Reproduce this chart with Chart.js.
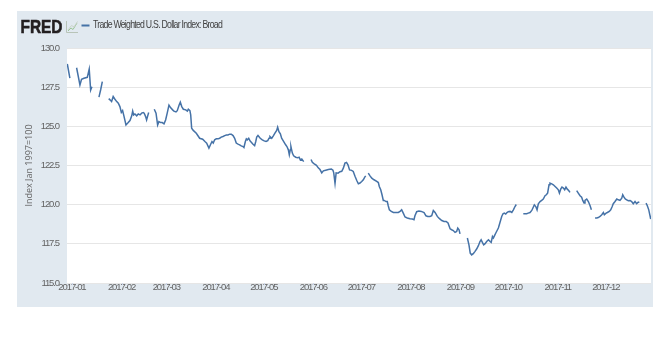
<!DOCTYPE html>
<html>
<head>
<meta charset="utf-8">
<script src="https://cdn.jsdelivr.net/npm/chart.js@4.4.1/dist/chart.umd.min.js"></script>
<style>
html,body{margin:0;padding:0;background:#ffffff;}
#wrap{position:relative;width:669px;height:338px;}
</style>
</head>
<body>
<div id="wrap"><canvas id="c" width="669" height="338"></canvas></div>
<script>
// ---- Text ----
const seriesName = 'Trade Weighted U.S. Dollar Index: Broad';
const yAxisTitle = 'Index Jan 1997=100';
const logoText = 'FRED';

// ---- Axis ticks ----
const tickDays = [0, 31, 59, 90, 120, 151, 181, 212, 243, 273, 304, 334];
const tickLabels = ['2017-01','2017-02','2017-03','2017-04','2017-05','2017-06',
                    '2017-07','2017-08','2017-09','2017-10','2017-11','2017-12'];
const yTicks = [115, 117.5, 120, 122.5, 125, 127.5, 130];

// ---- Series: days since 2017-01-01, index value (null = no observation / holiday) ----
const days = [
  -2.9, -1.3, 0.8,
  2.9, 5.0, 6.0, 7.5, 9.6, 10.8, 11.7, 12.5, 14.5,
  16.9, 18.0, 19.0, 21.0,
  23.0, 23.8, 24.8, 25.8, 26.9, 28.0, 29.0, 30.0, 30.9, 31.7,
  32.5, 33.8, 35.2, 36.3, 37.4, 38.0, 38.6, 39.4, 40.5, 41.5,
  42.6, 43.6, 44.6, 45.2, 46.1, 46.7, 47.4, 48.0, 50.0,
  51.5, 52.6, 53.6, 54.4, 55.5, 56.5, 57.6, 58.6, 59.6, 60.7,
  61.8, 63.0, 63.8, 65.1, 65.9, 67.0, 67.8, 68.7, 69.7, 71.2,
  72.2, 72.8, 73.8, 74.3, 74.9, 75.9, 77.8, 79.9, 81.8, 83.2,
  84.3, 85.7, 86.8, 87.6, 88.4, 89.3, 90.3, 91.4, 92.4, 93.4,
  94.5, 95.6, 96.6, 97.6, 98.7, 99.7, 100.8, 101.8, 102.8, 103.9,
  104.9, 105.9, 107.0, 107.6, 108.5, 109.1, 109.7, 110.6, 111.4, 112.2,
  113.3, 114.3, 115.0, 115.6, 116.4, 117.8, 119.1, 120.3, 121.4, 122.5,
  123.3, 123.9, 125.0, 126.0, 127.0, 128.1, 128.7, 129.5, 130.4, 131.2,
  132.5, 133.7, 134.5, 135.4, 136.0, 136.6, 137.0, 137.9, 138.7, 140.0,
  141.2, 142.1, 142.9, 143.8, 145.0, 147.5,
  149.6, 150.4, 151.6, 153.0, 154.1, 155.2, 156.3, 157.3, 158.8, 160.4,
  162.3, 163.3, 163.8, 164.6, 165.3, 166.5, 167.7, 168.8, 169.8, 170.8,
  171.8, 172.7, 173.7, 175.0, 176.0, 177.1, 178.2, 179.2, 180.2, 181.3,
  182.3, 183.2, 183.8, 184.6,
  185.4, 186.5, 187.6, 189.0, 190.7, 191.7, 192.3, 193.2, 194.0, 194.8,
  195.4, 196.5, 197.3, 197.9, 198.6, 199.8, 201.1, 202.8, 204.2, 205.3,
  206.3, 207.3, 208.4, 209.8, 211.5, 213.0, 214.0, 214.6, 215.7, 217.1,
  218.6, 220.3, 221.5, 222.6, 224.0, 225.1, 226.1, 227.2, 228.6, 229.8,
  231.4, 232.8, 234.1, 235.3, 236.6, 237.6, 238.6, 239.7, 240.7, 241.4,
  242.2, 242.8, 245.0,
  247.4, 248.4, 249.2, 250.1, 251.1, 252.2, 253.2, 254.3, 255.3, 256.0,
  256.8, 257.6, 258.5, 259.5, 260.6, 261.6, 262.3, 263.1, 263.7, 264.4,
  265.2, 266.0, 266.8, 267.4, 268.3, 268.9, 269.7, 270.5, 271.4, 272.2,
  273.0, 274.1, 275.2, 276.2, 277.2, 278.0, 280.0,
  282.4, 283.5, 284.5, 285.5, 286.6, 287.7, 288.7, 289.3, 290.2, 291.0,
  291.8, 292.9, 293.9, 294.9, 296.0, 296.8, 297.6, 298.5, 299.1, 300.2,
  301.2, 302.3, 303.3, 304.3, 305.0, 305.8, 306.6, 307.5, 308.3, 309.1,
  309.9, 310.8, 311.6, 313.0,
  315.8, 316.8, 317.9, 318.9, 319.6, 320.4, 321.0, 322.1, 323.1, 324.2,
  325.0, 326.0,
  327.3, 328.4, 329.3, 330.4, 331.5, 332.5, 333.1, 334.2, 335.0, 336.2,
  337.1, 337.9, 338.7, 339.8, 340.9, 341.9, 342.9, 344.0, 344.6, 345.4,
  346.2, 347.1, 348.1, 349.2, 350.2, 351.2, 352.3, 353.3, 354.1, 355.0, 357.0,
  359.2, 360.0, 360.9, 361.7, 362.1
];
const values = [
  128.98, 128.07, null,
  128.74, 127.64, 128.00, 128.07, 128.13, 128.66, 127.32, 127.53, null,
  126.86, 127.35, 127.85, null,
  126.77, 126.69, 126.58, 126.90, 126.73, 126.58, 126.48, 126.26, 125.88, 126.00,
  125.67, 125.09, 125.24, 125.37, 125.67, 125.97, 125.73, 125.79, 125.67, 125.79,
  125.73, 125.84, 125.88, 125.84, 125.62, 125.41, 125.67, 125.88, null,
  126.09, 125.84, 125.09, 125.30, 125.24, 125.24, 125.16, 125.41, 125.84, 126.35,
  126.18, 126.05, 125.97, 125.92, 126.00, 126.35, 126.54, 126.26, 126.09, 126.05,
  125.97, 126.09, 126.00, 125.73, 124.88, 124.74, 124.56, 124.24, 124.18, 124.03,
  123.93, 123.61, 123.86, 124.03, 123.93, 124.14, 124.20, 124.20, 124.24, 124.31,
  124.35, 124.41, 124.45, 124.45, 124.50, 124.50, 124.41, 124.24, 123.93, 123.86,
  123.82, 123.75, 123.71, 123.65, 124.03, 124.20, 124.14, 124.24, 124.07, 123.99,
  123.86, 123.77, 124.03, 124.31, 124.42, 124.24, 124.14, 124.07, 124.03, 124.09,
  124.24, 124.35, 124.24, 124.39, 124.56, 124.74, 124.95, 124.66, 124.52, 124.24,
  124.03, 123.82, 123.71, 123.50, 123.18, 123.50, 123.71, 123.29, 123.12, 123.03,
  122.99, 123.03, 122.86, 122.91, 122.75, null,
  122.88, 122.70, 122.61, 122.51, 122.35, 122.24, 122.03, 122.16, 122.20, 122.24,
  122.27, 122.20, 122.03, 121.36, 122.03, 122.01, 122.10, 122.13, 122.33, 122.65,
  122.70, 122.54, 122.22, 122.19, 122.12, 121.81, 121.54, 121.33, 121.38, 121.48,
  121.59, 121.76, 121.84, null,
  122.01, 121.84, 121.69, 121.59, 121.48, 121.41, 121.16, 120.95, 120.63, 120.27,
  120.27, 120.20, 120.20, 119.93, 119.67, 119.57, 119.50, 119.50, 119.50, 119.57,
  119.67, 119.46, 119.21, 119.15, 119.10, 119.08, 119.04, 119.29, 119.55, 119.59,
  119.57, 119.50, 119.29, 119.25, 119.25, 119.29, 119.63, 119.50, 119.25, 119.12,
  118.99, 118.93, 118.93, 118.83, 118.46, 118.40, 118.35, 118.23, 118.29, 118.51,
  118.40, 118.14, null,
  117.87, 117.44, 116.91, 116.79, 116.87, 117.02, 117.17, 117.38, 117.65, 117.76,
  117.59, 117.44, 117.51, 117.65, 117.76, 117.65, 117.59, 117.97, 117.87, 118.02,
  118.19, 118.35, 118.51, 118.72, 119.04, 119.25, 119.42, 119.46, 119.40, 119.50,
  119.55, 119.57, 119.50, 119.67, 119.88, 120.01, null,
  119.42, 119.42, 119.42, 119.46, 119.50, 119.63, 119.85, 119.99, 119.88, 119.67,
  120.06, 120.20, 120.27, 120.36, 120.57, 120.63, 120.74, 121.27, 121.38, 121.33,
  121.27, 121.16, 121.06, 120.95, 120.74, 120.99, 121.12, 121.06, 120.95, 121.12,
  120.99, 120.90, 120.78, null,
  120.90, 120.74, 120.57, 120.48, 120.27, 120.10, 120.27, 120.36, 120.20, 119.93,
  119.67, null,
  119.15, 119.15, 119.18, 119.25, 119.36, 119.50, 119.36, 119.46, 119.50, 119.57,
  119.67, 119.85, 120.06, 120.20, 120.36, 120.31, 120.27, 120.42, 120.63, 120.48,
  120.36, 120.31, 120.25, 120.27, 120.20, 120.06, 120.20, 120.06, 120.14, 120.18, null,
  120.10, 119.93, 119.67, 119.29, 119.08
];

// ---- Styling ----
const lineColor = '#4572a7';
const panelColor = '#e1e9f0';
const tickFont = "'Liberation Sans', Arial, sans-serif";
const textColor = '#636363';

const points = days.map((d, i) => ({ x: d, y: values[i] }));

// tick labels of this chart are set in a condensed face: tighten letter spacing
function condenseLabels(s) {
  if (s._condensed) return;
  const orig = s.drawLabels.bind(s);
  s.drawLabels = function (area) {
    const ctx = s.ctx;
    ctx.save();
    if ('letterSpacing' in ctx) ctx.letterSpacing = '-1.1px';
    orig(area);
    ctx.restore();
  };
  s._condensed = true;
}

const framePlugin = {
  id: 'frame',
  beforeDraw(chart) {
    const ctx = chart.ctx, a = chart.chartArea;
    ctx.save();
    ctx.fillStyle = '#ffffff';
    ctx.fillRect(0, 0, chart.width, chart.height);
    ctx.fillStyle = panelColor;
    ctx.fillRect(17, 11, 636, 296);
    ctx.fillStyle = '#ffffff';
    ctx.fillRect(a.left, a.top, a.right - a.left, a.bottom - a.top);
    ctx.restore();
  },
  afterDraw(chart) {
    const ctx = chart.ctx, a = chart.chartArea, xs = chart.scales.x;
    ctx.save();
    // month tick marks under the plot
    ctx.strokeStyle = '#ccd6eb';
    ctx.lineWidth = 1;
    tickDays.forEach(d => {
      const px = Math.round(xs.getPixelForValue(d)) + 0.5;
      ctx.beginPath();
      ctx.moveTo(px, a.bottom);
      ctx.lineTo(px, a.bottom + 2);
      ctx.stroke();
    });
    // FRED logo
    ctx.fillStyle = '#231f20';
    ctx.font = "bold 18.5px 'Liberation Sans', Arial, sans-serif";
    ctx.textBaseline = 'alphabetic';
    const lw = ctx.measureText(logoText).width;
    ctx.save();
    ctx.translate(20.5, 33.4);
    ctx.scale(42 / lw, 1);
    ctx.fillText(logoText, 0, 0);
    ctx.strokeStyle = '#231f20';
    ctx.lineWidth = 0.6;
    ctx.strokeText(logoText, 0, 0);
    ctx.restore();
    // small graph icon
    ctx.strokeStyle = '#b8c4b8';
    ctx.lineWidth = 1;
    ctx.beginPath();
    ctx.moveTo(66.5, 21); ctx.lineTo(66.5, 32.5); ctx.lineTo(78, 32.5);
    ctx.stroke();
    ctx.strokeStyle = '#9cc59a';
    ctx.beginPath();
    ctx.moveTo(68, 31); ctx.lineTo(71, 28); ctx.lineTo(73, 29.5); ctx.lineTo(77, 23);
    ctx.stroke();
    ctx.strokeStyle = '#c9d3c9';
    ctx.beginPath();
    ctx.moveTo(68, 30); ctx.lineTo(71.5, 25.5); ctx.lineTo(74, 27); ctx.lineTo(77.5, 21.5);
    ctx.stroke();
    // legend swatch
    ctx.strokeStyle = lineColor;
    ctx.lineWidth = 2;
    ctx.beginPath();
    ctx.moveTo(81.5, 25.5); ctx.lineTo(89.5, 25.5);
    ctx.stroke();
    // legend text
    ctx.fillStyle = '#3f3f3f';
    ctx.font = "10.5px 'Liberation Sans', Arial, sans-serif";
    ctx.textBaseline = 'middle';
    if ('letterSpacing' in ctx) ctx.letterSpacing = '-0.9px';
    const tw = ctx.measureText(seriesName).width;
    ctx.save();
    ctx.translate(93, 25.5);
    ctx.scale(129 / tw, 1);
    ctx.fillText(seriesName, 0, 0);
    ctx.restore();
    ctx.restore();
  }
};

new Chart(document.getElementById('c'), {
  type: 'line',
  data: {
    datasets: [{
      label: seriesName,
      data: points,
      borderColor: lineColor,
      borderWidth: 1.5,
      pointRadius: 0,
      pointHoverRadius: 0,
      fill: false,
      tension: 0,
      spanGaps: false
    }]
  },
  options: {
    responsive: false,
    animation: false,
    devicePixelRatio: 1,
    layout: { padding: { left: 17, right: 18, top: 48, bottom: 31 } },
    plugins: {
      legend: { display: false },
      tooltip: { enabled: false },
      title: { display: false }
    },
    scales: {
      x: {
        type: 'linear',
        min: -3.1,
        max: 362.3,
        afterBuildTicks(s) { s.ticks = tickDays.map(v => ({ value: v })); },
        afterFit(s) { s.height = 24; condenseLabels(s); },
        grid: { display: false, drawTicks: false },
        border: { display: false },
        ticks: {
          autoSkip: false,
          maxRotation: 0,
          padding: 0,
          color: textColor,
          font: { family: tickFont, size: 9.5, lineHeight: 1 },
          callback: (v) => tickLabels[tickDays.indexOf(v)]
        }
      },
      y: {
        min: 115,
        max: 130,
        afterBuildTicks(s) { s.ticks = yTicks.map(v => ({ value: v })); },
        afterFit(s) { s.width = 50; condenseLabels(s); },
        grid: { color: '#e6e6e6', lineWidth: 1, drawTicks: false },
        border: { display: false },
        ticks: {
          padding: 8,
          color: textColor,
          font: { family: tickFont, size: 9.5 },
          callback: (v) => Number(v).toFixed(1)
        },
        title: {
          display: true,
          text: yAxisTitle,
          color: textColor,
          font: { family: "'Open Sans', sans-serif", size: 9 },
          padding: { top: 7, bottom: 0 }
        }
      }
    }
  },
  plugins: [framePlugin]
});
</script>
</body>
</html>
